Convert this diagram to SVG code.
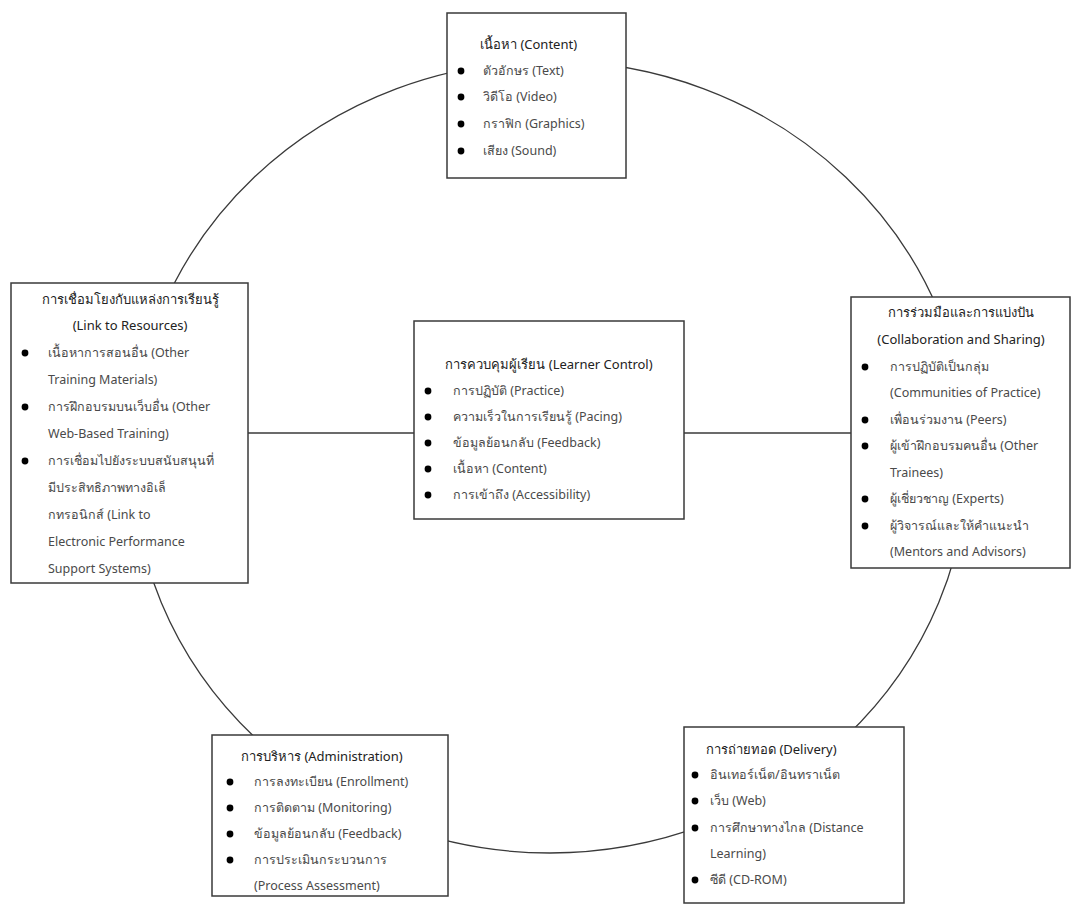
<svg xmlns="http://www.w3.org/2000/svg" width="1075" height="907" viewBox="0 0 1075 907">
<style>
.box{fill:#fff;stroke:#3a3a3a;stroke-width:1.5}
.ring{fill:none;stroke:#3a3a3a;stroke-width:1.3}
.ln{stroke:#3a3a3a;stroke-width:1.3}
text{font-family:"Noto Sans","Liberation Sans",sans-serif;font-size:12.5px;fill:#4a4a4a}
.h{fill:#222;font-size:13px}
.c{text-anchor:middle}
.b{fill:#000}
</style>
<defs>
<circle id="dot" r="3.4" class="b"/>
</defs>
<rect width="1075" height="907" fill="#fff"/>
<g id="connectors">
<ellipse class="ring" cx="550" cy="457" rx="418" ry="396"/>
<line class="ln" x1="248" y1="433" x2="414" y2="433"/>
<line class="ln" x1="684" y1="433" x2="851" y2="433"/>
</g>
<g id="content">
<rect class="box" x="447" y="13" width="179" height="165"/>
<text class="h" x="480" y="49">เนื้อหา (Content)</text>
<use href="#dot" x="461" y="71"/><text x="483" y="75">ตัวอักษร (Text)</text>
<use href="#dot" x="461" y="97"/><text x="483" y="101">วิดีโอ (Video)</text>
<use href="#dot" x="461" y="124"/><text x="483" y="128">กราฟิก (Graphics)</text>
<use href="#dot" x="461" y="151"/><text x="483" y="155">เสียง (Sound)</text>
</g>
<g id="resources">
<rect class="box" x="11" y="283" width="237" height="300"/>
<text class="h c" x="130" y="304">การเชื่อมโยงกับแหล่งการเรียนรู้</text>
<text class="h c" x="130" y="330">(Link to Resources)</text>
<use href="#dot" x="25" y="353"/><text x="48" y="357">เนื้อหาการสอนอื่น (Other</text>
<text x="48" y="384">Training Materials)</text>
<use href="#dot" x="25" y="407"/><text x="48" y="411">การฝึกอบรมบนเว็บอื่น (Other</text>
<text x="48" y="438">Web-Based Training)</text>
<use href="#dot" x="25" y="461"/><text x="48" y="465">การเชื่อมไปยังระบบสนับสนุนที่</text>
<text x="48" y="492">มีประสิทธิภาพทางอิเล็</text>
<text x="48" y="519">กทรอนิกส์ (Link to</text>
<text x="48" y="546">Electronic Performance</text>
<text x="48" y="573">Support Systems)</text>
</g>
<g id="learner">
<rect class="box" x="414" y="321" width="270" height="198"/>
<text class="h c" x="549" y="369">การควบคุมผู้เรียน (Learner Control)</text>
<use href="#dot" x="428" y="391"/><text x="453" y="395">การปฏิบัติ (Practice)</text>
<use href="#dot" x="428" y="417"/><text x="453" y="421">ความเร็วในการเรียนรู้ (Pacing)</text>
<use href="#dot" x="428" y="443"/><text x="453" y="447">ข้อมูลย้อนกลับ (Feedback)</text>
<use href="#dot" x="428" y="469"/><text x="453" y="473">เนื้อหา (Content)</text>
<use href="#dot" x="428" y="495"/><text x="453" y="499">การเข้าถึง (Accessibility)</text>
</g>
<g id="collaboration">
<rect class="box" x="851" y="297" width="219" height="271"/>
<text class="h c" x="961" y="317">การร่วมมือและการแบ่งปัน</text>
<text class="h c" x="961" y="344">(Collaboration and Sharing)</text>
<use href="#dot" x="865" y="367"/><text x="890" y="371">การปฏิบัติเป็นกลุ่ม</text>
<text x="890" y="397">(Communities of Practice)</text>
<use href="#dot" x="865" y="420"/><text x="890" y="424">เพื่อนร่วมงาน (Peers)</text>
<use href="#dot" x="865" y="446"/><text x="890" y="450">ผู้เข้าฝึกอบรมคนอื่น (Other</text>
<text x="890" y="477">Trainees)</text>
<use href="#dot" x="865" y="499"/><text x="890" y="503">ผู้เชี่ยวชาญ (Experts)</text>
<use href="#dot" x="865" y="526"/><text x="890" y="530">ผู้วิจารณ์และให้คำแนะนำ</text>
<text x="890" y="556">(Mentors and Advisors)</text>
</g>
<g id="administration">
<rect class="box" x="212" y="735" width="236" height="161"/>
<text class="h" x="241" y="761">การบริหาร (Administration)</text>
<use href="#dot" x="230" y="782"/><text x="254" y="786">การลงทะเบียน (Enrollment)</text>
<use href="#dot" x="230" y="808"/><text x="254" y="812">การติดตาม (Monitoring)</text>
<use href="#dot" x="230" y="834"/><text x="254" y="838">ข้อมูลย้อนกลับ (Feedback)</text>
<use href="#dot" x="230" y="860"/><text x="254" y="864">การประเมินกระบวนการ</text>
<text x="254" y="890">(Process Assessment)</text>
</g>
<g id="delivery">
<rect class="box" x="684" y="727" width="220" height="176"/>
<text class="h" x="706" y="754">การถ่ายทอด (Delivery)</text>
<use href="#dot" x="695" y="775"/><text x="710" y="779">อินเทอร์เน็ต/อินทราเน็ต</text>
<use href="#dot" x="695" y="801"/><text x="710" y="805">เว็บ (Web)</text>
<use href="#dot" x="695" y="828"/><text x="710" y="832">การศึกษาทางไกล (Distance</text>
<text x="710" y="858">Learning)</text>
<use href="#dot" x="695" y="880"/><text x="710" y="884">ซีดี (CD-ROM)</text>
</g>
</svg>
